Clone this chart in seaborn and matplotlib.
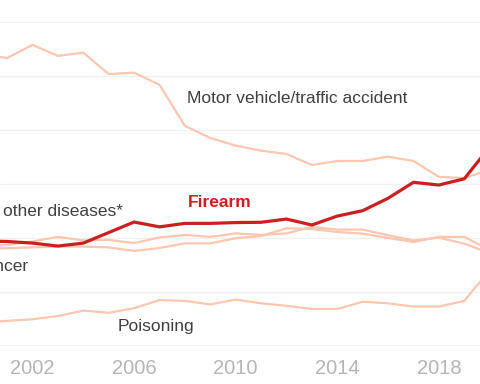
import pandas as pd
import seaborn as sns
import matplotlib.pyplot as plt

# rates (arbitrary units, grid every 2)
years = list(range(2000, 2021))
motor_vehicle = [10.81, 10.66, 11.15, 10.74, 10.86, 10.07, 10.12, 9.67, 8.15, 7.70, 7.42,
                 7.23, 7.11, 6.70, 6.85, 6.85, 7.01, 6.85, 6.26, 6.22, 6.52]
firearm = [3.89, 3.87, 3.81, 3.70, 3.81, 4.20, 4.59, 4.41, 4.54, 4.54, 4.57,
           4.58, 4.70, 4.48, 4.81, 5.01, 5.47, 6.06, 5.96, 6.19, 7.37]
other_diseases = [3.67, 3.74, 3.87, 4.04, 3.91, 3.93, 3.81, 4.02, 4.11, 4.04, 4.17,
                  4.11, 4.17, 4.41, 4.31, 4.31, 4.10, 3.91, 4.01, 3.79, 3.44]
cancer = [3.61, 3.62, 3.65, 3.68, 3.68, 3.65, 3.52, 3.63, 3.80, 3.80, 3.99,
          4.07, 4.36, 4.33, 4.22, 4.16, 4.00, 3.85, 4.04, 4.04, 3.56]
poisoning = [0.85, 0.93, 0.99, 1.11, 1.31, 1.23, 1.40, 1.70, 1.67, 1.54, 1.72,
             1.58, 1.49, 1.37, 1.37, 1.64, 1.58, 1.46, 1.46, 1.67, 2.81]

xticks = [2002, 2006, 2010, 2014, 2018]

df = pd.DataFrame({"year": years, "Motor vehicle": motor_vehicle, "Other diseases": other_diseases,
                   "Cancer": cancer, "Poisoning": poisoning, "Firearm": firearm})

sns.set_style("white")
plt.rcParams["font.family"] = ["Liberation Sans", "DejaVu Sans"]

light = "#fdc6b0"
red = "#cc1f1f"
txt = "#404040"

fig = plt.figure(figsize=(4.8, 3.84), dpi=100)
ax = fig.add_axes([0, 38 / 384, 1, 346 / 384])

for col in ["Motor vehicle", "Other diseases", "Cancer", "Poisoning"]:
    sns.lineplot(data=df, x="year", y=col, color=light, lw=1.6, ax=ax)
sns.lineplot(data=df, x="year", y="Firearm", color=red, lw=2.3, ax=ax)

ax.set_xlim(2000.72, 2019.62)
ax.set_ylim(0, 12.81)
ax.set_yticks(range(0, 13, 2))
ax.set_yticklabels([])
ax.set_xticks(xticks)
ax.set_xticklabels([str(t) for t in xticks], color="#b5b5b5", fontsize=14.5)
ax.tick_params(axis="both", length=0)
ax.tick_params(axis="x", pad=9)
ax.grid(axis="y", color="#f1f1f1", lw=1)
ax.axhline(0, color="#dcdcdc", lw=1)
ax.set_xlabel("")
ax.set_ylabel("")
sns.despine(ax=ax, left=True, bottom=True)

ax.text(2008.08, 9.15, "Motor vehicle/traffic accident", color=txt, fontsize=12.5,
        ha="left", va="center")
ax.text(2008.12, 5.33, "Firearm", color=red, fontsize=12.5, fontweight="bold",
        ha="left", va="center")
ax.text(2000.84, 4.98, "other diseases*", color=txt, fontsize=12.5, ha="left", va="center")
ax.text(2001.82, 2.93, "Cancer", color=txt, fontsize=12.5, ha="right", va="center")
ax.text(2005.37, 0.74, "Poisoning", color=txt, fontsize=12.5, ha="left", va="center")

fig.savefig("out.png", dpi=100)
